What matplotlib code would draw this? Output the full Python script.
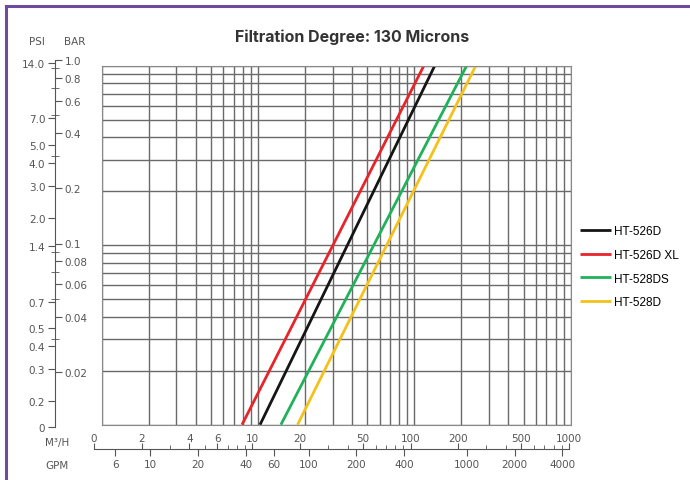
import matplotlib.pyplot as plt
from matplotlib.lines import Line2D

# flow (m3/h) where each curve meets 0.01 bar and 1.0 bar
models = ['HT-526D', 'HT-526D XL', 'HT-528DS', 'HT-528D']
colors = ['#151515', '#e8232a', '#1fb25a', '#f2c21b']
flow_low = [10.3, 7.9, 14.0, 17.9]
flow_high = [135, 115, 216, 247]
dp_ends = [0.01, 1.0]

bar_ticks = [1.0, 0.8, 0.6, 0.4, 0.2, 0.1, 0.08, 0.06, 0.04, 0.02]
bar_labels = ['1.0', '0.8', '0.6', '0.4', '0.2', '0.1', '0.08', '0.06', '0.04', '0.02']
psi_ticks = [14.0, 7.0, 5.0, 4.0, 3.0, 2.0, 1.4, 0.7, 0.5, 0.4, 0.3, 0.2]
psi_labels = ['14.0', '7.0', '5.0', '4.0', '3.0', '2.0', '1.4', '0.7', '0.5', '0.4', '0.3', '0.2']
m3h_ticks = [2, 4, 6, 10, 20, 50, 100, 200, 500, 1000]
gpm_ticks = [6, 10, 20, 40, 60, 100, 200, 400, 1000, 2000, 4000]
PSI_PER_BAR = 14.5038
GPM_PER_M3H = 4.4029

W, H = 690, 481
def rect(x0, y0, x1, y1):
    return [x0 / W, 1 - y1 / H, (x1 - x0) / W, (y1 - y0) / H]

grey = '#555555'
lab_font = 'DejaVu Sans'
fs = 7.5

fig = plt.figure(figsize=(6.9, 4.81), dpi=100)

# purple frame
fig.add_artist(Line2D([6 / W, 1], [1 - 7 / H] * 2, color='#6d4c9f', lw=2.2))
fig.add_artist(Line2D([6 / W] * 2, [0, 1 - 7 / H], color='#6d4c9f', lw=2.2))

fig.text(352 / W, 1 - 37 / H, 'Filtration Degree: 130 Microns', ha='center', va='center',
         fontsize=11.5, fontweight='bold', family='Inter', color='#333333')

# main grid
ax = fig.add_axes(rect(101.7, 66.7, 570.7, 425.7))
ax.set_xscale('log')
ax.set_yscale('log')
ax.set_xlim(1, 1000)
ax.set_ylim(0.01, 1.0)
ax.grid(True, which='both', color='#6a6a6a', lw=1)
ax.tick_params(which='both', length=0, labelleft=False, labelbottom=False)
for s in ax.spines.values():
    s.set_color('#8a8a8a')

for m, c, lo, hi in zip(models, colors, flow_low, flow_high):
    ax.plot([lo, hi], dp_ends, color=c, lw=2, label=m, solid_capstyle='butt')

ax.legend(loc='upper left', bbox_to_anchor=(580 / W, 1 - 226 / H), bbox_transform=fig.transFigure,
          frameon=False, prop={'family': 'Liberation Sans', 'size': 8.5},
          handlelength=2.6, handletextpad=0.3, labelspacing=1.0, borderpad=0, borderaxespad=0)

# pressure scale (BAR right, PSI left)
sax = fig.add_axes(rect(55, 61, 55.0001, 428))
pax = sax.twinx()
for a in (sax, pax):
    a.set_yscale('log')
    a.set_ylim(0.01, 1.0)
    a.set_xticks([])
    for s in a.spines.values():
        s.set_visible(False)
sax.spines['left'].set_visible(True)
sax.spines['left'].set_color(grey)

sax.yaxis.set_ticks_position('right')
sax.yaxis.set_label_position('right')
sax.set_yticks(bar_ticks, bar_labels)
sax.set_yticks([0.9, 0.7, 0.5, 0.3, 0.09, 0.07, 0.05, 0.03], minor=True)
sax.tick_params(axis='y', which='major', direction='out', length=5, color=grey, labelcolor=grey,
                labelsize=fs, pad=2, labelright=True, labelleft=False)
sax.tick_params(axis='y', which='minor', direction='inout', length=6, color=grey,
                labelright=False, labelleft=False)
for t in sax.get_yticklabels():
    t.set_family(lab_font)

pax.yaxis.set_ticks_position('left')
pax.yaxis.set_label_position('left')
pax.set_yticks([p / PSI_PER_BAR for p in psi_ticks] + [0.01], psi_labels + ['0'])
pax.set_yticks([], minor=True)
pax.tick_params(axis='y', which='major', direction='out', length=5, color=grey, labelcolor=grey,
                labelsize=fs, pad=2, labelleft=True, labelright=False)
for t in pax.get_yticklabels():
    t.set_family(lab_font)

fig.text(37 / W, 1 - 42 / H, 'PSI', ha='center', va='center', fontsize=fs, color=grey, family=lab_font)
fig.text(75 / W, 1 - 42 / H, 'BAR', ha='center', va='center', fontsize=fs, color=grey, family=lab_font)

# flow scale (M3/H above, GPM below)
bax = fig.add_axes(rect(94, 450, 569, 450.0001))
gax = bax.twiny()
for a in (bax, gax):
    a.set_xscale('log')
    a.set_xlim(1, 1000)
    a.set_yticks([])
    for s in a.spines.values():
        s.set_visible(False)
bax.spines['bottom'].set_visible(True)
bax.spines['bottom'].set_color(grey)

bax.xaxis.set_ticks_position('top')
bax.set_xticks([1] + m3h_ticks, ['0'] + [str(v) for v in m3h_ticks])
bax.set_xticks([3, 5, 7, 8, 9, 30, 40, 60, 70, 80, 90, 300, 400, 600, 700, 800, 900], minor=True)
bax.tick_params(axis='x', which='major', direction='out', length=4, color=grey, labelcolor=grey,
                labelsize=fs, pad=0, labeltop=True, labelbottom=False)
bax.tick_params(axis='x', which='minor', direction='out', length=3, color=grey,
                labeltop=False, labelbottom=False)
for t in bax.get_xticklabels():
    t.set_family(lab_font)

gax.xaxis.set_ticks_position('bottom')
gax.set_xticks([g / GPM_PER_M3H for g in gpm_ticks], [str(g) for g in gpm_ticks])
gax.set_xticks([], minor=True)
gax.tick_params(axis='x', which='major', direction='out', length=5, color=grey, labelcolor=grey,
                labelsize=fs, pad=2.5, labelbottom=True, labeltop=False)
for t in gax.get_xticklabels():
    t.set_family(lab_font)

fig.text(57 / W, 1 - 443 / H, 'M³/H', ha='center', va='center', fontsize=fs, color=grey, family=lab_font)
fig.text(57 / W, 1 - 466 / H, 'GPM', ha='center', va='center', fontsize=fs, color=grey, family=lab_font)

fig.savefig('out.png', dpi=100)
